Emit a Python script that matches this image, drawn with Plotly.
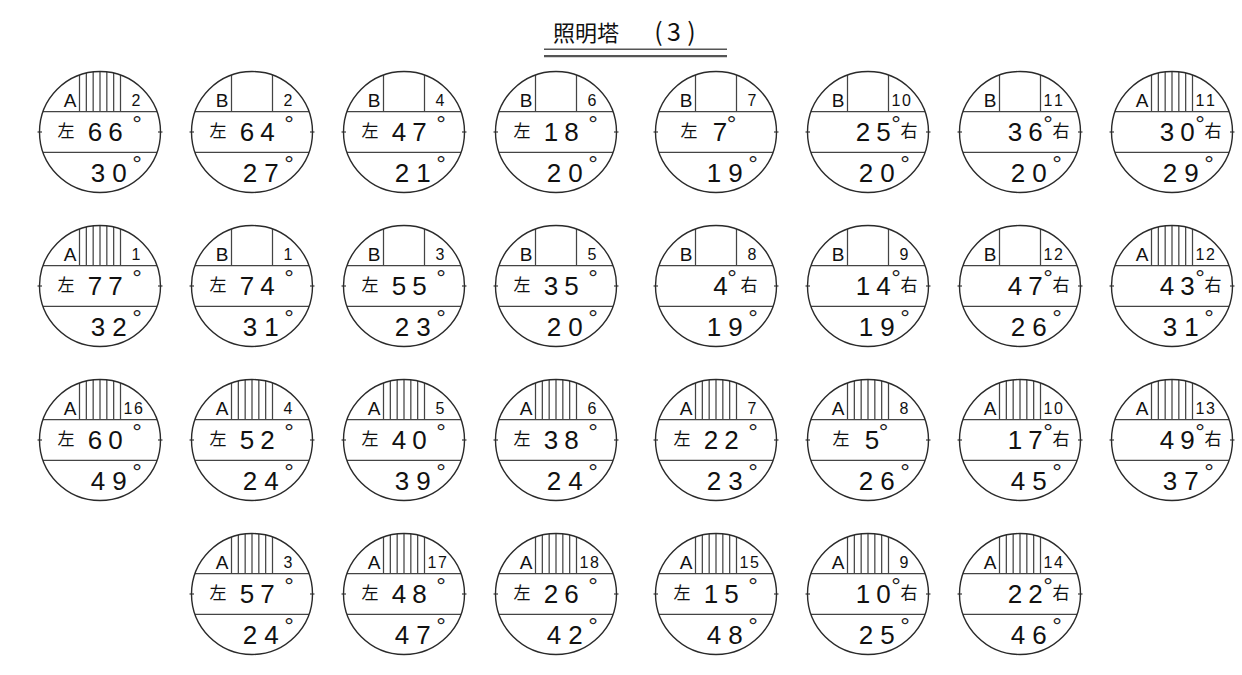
import math
import plotly.graph_objects as go

# ---------------- data ----------------
TITLE_MAIN = "照明塔"
TITLE_SUB = ["(", "3", ")"]

row = [0] * 8 + [1] * 8 + [2] * 8 + [3] * 6
col = list(range(8)) * 3 + list(range(1, 7))
kind = ["A", "B", "B", "B", "B", "B", "B", "A",
        "A", "B", "B", "B", "B", "B", "B", "A",
        "A", "A", "A", "A", "A", "A", "A", "A",
        "A", "A", "A", "A", "A", "A"]
number = [2, 2, 4, 6, 7, 10, 11, 11,
          1, 1, 3, 5, 8, 9, 12, 12,
          16, 4, 5, 6, 7, 8, 10, 13,
          3, 17, 18, 15, 9, 14]
side = (["左"] * 5 + ["右"] * 3 +
        ["左"] * 4 + ["右"] * 4 +
        ["左"] * 6 + ["右"] * 2 +
        ["左"] * 4 + ["右"] * 2)
horiz = [66, 64, 47, 18, 7, 25, 36, 30,
         77, 74, 55, 35, 4, 14, 47, 43,
         60, 52, 40, 38, 22, 5, 17, 49,
         57, 48, 26, 15, 10, 22]
vert = [30, 27, 21, 20, 19, 20, 20, 29,
        32, 31, 23, 20, 19, 19, 26, 31,
        49, 24, 39, 24, 23, 26, 45, 37,
        24, 47, 42, 48, 25, 46]

# ---------------- layout constants ----------------
W, H = 1242, 675
COL_X = [100, 252, 404, 556, 716, 868, 1020, 1172]
ROW_Y = [132, 286, 440, 594]
R = 60.5
BAND = 20.3
HATCH = 20.5

LAT = "Liberation Sans, Arial, sans-serif"
CJK = "Noto Sans CJK JP, sans-serif"
BIG = 26
DEG = 24
INK = "#111111"

fig = go.Figure()
shapes = []

line_x, line_y = [], []


def seg(x0, y0, x1, y1):
    line_x.extend([x0, x1, None])
    line_y.extend([y0, y1, None])


texts = {
    "label": ([], [], []),
    "num": ([], [], []),
    "big": ([], [], []),
    "deg": ([], [], []),
    "kanji": ([], [], []),
}


def put(group, x, y, t):
    xs, ys, ts = texts[group]
    xs.append(x)
    ys.append(y)
    ts.append(t)


def deg(x, y):
    # place the degree ring centre at (x, y)
    put("deg", x, y + 0.22 * DEG, "°")


for i in range(len(kind)):
    cx = COL_X[col[i]]
    cy = ROW_Y[row[i]]
    shapes.append(dict(type="circle", xref="x", yref="y",
                       x0=cx - R, x1=cx + R, y0=cy - R, y1=cy + R,
                       line=dict(color="#2a2a2a", width=1.4)))
    half = math.sqrt(R * R - BAND * BAND)
    seg(cx - half, cy - BAND, cx + half, cy - BAND)
    seg(cx - half, cy + BAND, cx + half, cy + BAND)
    # small ticks on horizontal diameter
    seg(cx - R - 2, cy, cx - R + 2.5, cy)
    seg(cx + R - 2.5, cy, cx + R + 2, cy)
    # hatch / frame lines in the top cap
    if kind[i] == "A":
        offs = [-HATCH + k * 2 * HATCH / 6 for k in range(7)]
    else:
        offs = [-HATCH, HATCH]
    for dx in offs:
        top = cy - math.sqrt(R * R - dx * dx)
        seg(cx + dx, cy - BAND, cx + dx, top)

    # top labels
    put("label", cx - 30, cy - 30, kind[i])
    s = str(number[i])
    if len(s) == 1:
        put("num", cx + 36, cy - 30, s)
    else:
        put("num", cx + 28, cy - 30, s[0])
        put("num", cx + 38.5, cy - 30, s[1])

    # middle row (horizontal angle)
    my = cy + 2.5
    h = str(horiz[i])
    if side[i] == "左":
        if len(h) == 2:
            put("kanji", cx - 34, cy + 1, "左")
            put("big", cx - 5, my, h[0])
            put("big", cx + 15.5, my, h[1])
            deg(cx + 37, cy - 11)
        else:
            put("kanji", cx - 27, cy + 1, "左")
            put("big", cx + 4, my, h)
            deg(cx + 15.5, cy - 11)
    else:
        if len(h) == 2:
            put("big", cx - 5, my, h[0])
            put("big", cx + 15.5, my, h[1])
            deg(cx + 28, cy - 11)
            put("kanji", cx + 41, cy + 1, "右")
        else:
            put("big", cx + 4.5, my, h)
            deg(cx + 16, cy - 11)
            put("kanji", cx + 33, cy + 1, "右")

    # bottom row (vertical angle)
    by = cy + 43.5
    v = str(vert[i])
    put("big", cx - 2, by, v[0])
    put("big", cx + 19.5, by, v[1])
    deg(cx + 37, cy + 29)

fig.add_trace(go.Scatter(x=line_x, y=line_y, mode="lines",
                         line=dict(color="#444444", width=1.25),
                         hoverinfo="skip", showlegend=False))

styles = {
    "label": dict(family=LAT, size=19, color=INK),
    "num": dict(family=LAT, size=16, color=INK),
    "big": dict(family=LAT, size=BIG, color=INK),
    "deg": dict(family=LAT, size=DEG, color="#222222"),
    "kanji": dict(family=CJK, size=17, color=INK),
}
for g, (xs, ys, ts) in texts.items():
    fig.add_trace(go.Scatter(x=xs, y=ys, text=ts, mode="text",
                             textposition="middle center",
                             textfont=styles[g],
                             hoverinfo="skip", showlegend=False))

# title and double underline
fig.add_trace(go.Scatter(x=[586], y=[35], text=[TITLE_MAIN], mode="text",
                         textposition="middle center",
                         textfont=dict(family=CJK, size=22, color=INK),
                         hoverinfo="skip", showlegend=False))
fig.add_trace(go.Scatter(x=[658.5, 674, 691.5], y=[35, 35, 35], text=TITLE_SUB,
                         mode="text", textposition="middle center",
                         textfont=dict(family=CJK, size=25, color=INK),
                         hoverinfo="skip", showlegend=False))
shapes.append(dict(type="line", xref="x", yref="y", x0=544, x1=727, y0=49.3, y1=49.3,
                   line=dict(color="#555555", width=1.6)))
shapes.append(dict(type="line", xref="x", yref="y", x0=544, x1=727, y0=56.2, y1=56.2,
                   line=dict(color="#555555", width=2.2)))

fig.update_layout(
    width=W, height=H,
    margin=dict(l=0, r=0, t=0, b=0),
    paper_bgcolor="white", plot_bgcolor="white",
    xaxis=dict(range=[0, W], visible=False, fixedrange=True),
    yaxis=dict(range=[H, 0], visible=False, fixedrange=True),
    shapes=shapes,
    showlegend=False,
)

fig.write_html("out.html", config={"displayModeBar": False},
               post_script="document.body.style.margin='0';document.body.style.overflow='hidden';")
